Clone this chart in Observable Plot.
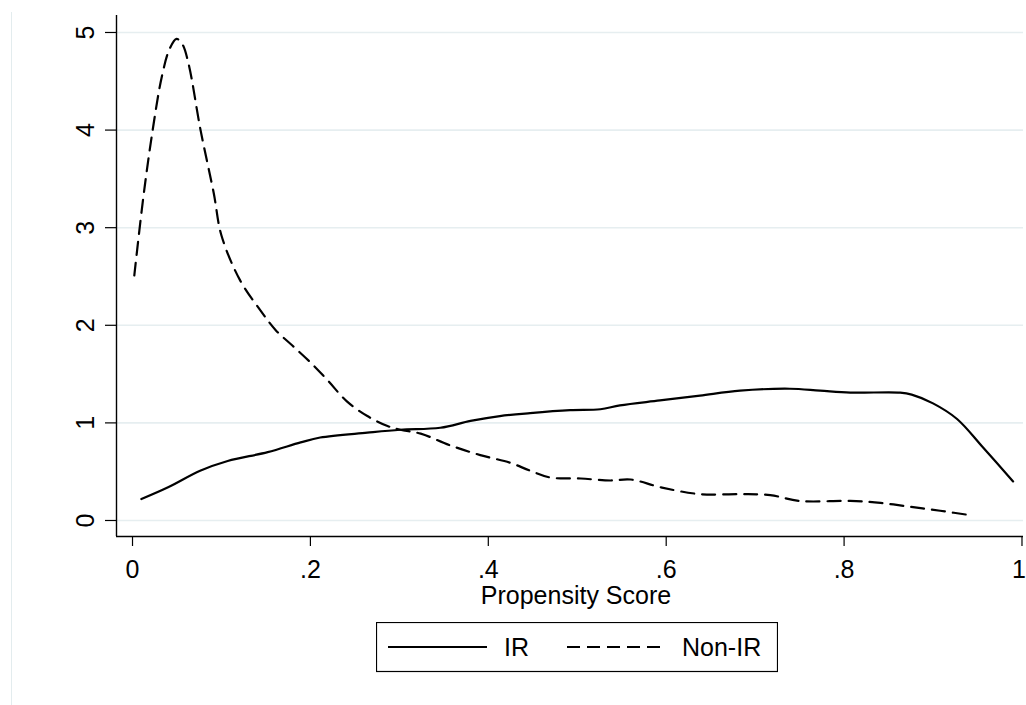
<!DOCTYPE html>
<html>
<head>
<meta charset="utf-8">
<script src="https://cdn.jsdelivr.net/npm/d3@7"></script>
<script src="https://cdn.jsdelivr.net/npm/@observablehq/plot@0.6"></script>
<style>
  html, body { margin: 0; padding: 0; background: #fff; }
  body { width: 1026px; height: 705px; position: relative; overflow: hidden; font-family: "Liberation Sans", Arial, sans-serif; }
  #outer { position: absolute; left: 11px; top: 12px; width: 0; height: 693px; border-left: 1px solid #e3ecee; }
  #chart { position: absolute; left: 0; top: 0; }
  #legend { position: absolute; left: 376px; top: 622px; }
</style>
</head>
<body>
<div id="outer"></div>
<div id="chart"></div>
<div id="legend"></div>
<script>
// ---- data ----
const irX = [0.01,0.04,0.076,0.107,0.152,0.189,0.211,0.264,0.301,0.346,0.38,0.413,0.447,0.492,0.526,0.548,0.593,0.638,0.683,0.739,0.773,0.807,0.863,0.876,0.9,0.927,0.956,0.99];
const irY = [0.22,0.34,0.51,0.61,0.70,0.80,0.85,0.90,0.93,0.95,1.02,1.07,1.10,1.13,1.14,1.18,1.23,1.28,1.33,1.35,1.33,1.31,1.31,1.29,1.20,1.04,0.75,0.40];
const nonX = [0.002,0.012,0.022,0.033,0.0416,0.0495,0.056,0.063,0.0765,0.0914,0.10,0.121,0.144,0.161,0.18,0.20,0.22,0.241,0.264,0.286,0.301,0.324,0.357,0.391,0.425,0.447,0.47,0.504,0.537,0.56,0.594,0.638,0.683,0.717,0.75,0.807,0.841,0.875,0.908,0.945];
const nonY = [2.51,3.30,3.96,4.55,4.83,4.935,4.88,4.68,4.0,3.35,2.92,2.46,2.15,1.95,1.79,1.62,1.43,1.22,1.07,0.97,0.93,0.89,0.77,0.67,0.59,0.51,0.44,0.43,0.41,0.42,0.34,0.27,0.27,0.26,0.20,0.20,0.18,0.14,0.10,0.05];
const xTicks = [0, 0.2, 0.4, 0.6, 0.8, 1];
const yTicks = [0, 1, 2, 3, 4, 5];
const xLabel = "Propensity Score";
const seriesNames = ["IR", "Non-IR"];

const ir = irX.map((x, i) => ({x, y: irY[i]}));
const non = nonX.map((x, i) => ({x, y: nonY[i]}));
const fmt = d => d === 0 ? "0" : d === 1 ? "1" : String(d).replace(/^0\./, ".");
const lastTick = xTicks[xTicks.length - 1];

const chart = Plot.plot({
  width: 1026,
  height: 620,
  marginLeft: 116,
  marginRight: 3,
  marginTop: 15,
  marginBottom: 84,
  style: {fontFamily: "'Liberation Sans', Arial, sans-serif", fontSize: "25px", color: "#000", background: "transparent"},
  x: {domain: [-0.018, 1.0017]},
  y: {domain: [-0.164, 5.174]},
  marks: [
    Plot.ruleY(yTicks, {stroke: "#e6eef0", strokeWidth: 1.6}),
    Plot.axisX({ticks: xTicks, tickFormat: () => "", tickSize: 10, label: null, stroke: "#000", strokeWidth: 1.2}),
    Plot.text(xTicks.filter(d => d !== lastTick), {x: d => d, text: fmt, frameAnchor: "bottom", dy: 24, lineAnchor: "top", fontSize: 25, fill: "#000"}),
    Plot.text([lastTick], {x: d => d, text: fmt, frameAnchor: "bottom", dy: 24, dx: -3, lineAnchor: "top", fontSize: 25, fill: "#000"}),
    Plot.axisY({ticks: yTicks, tickFormat: () => "", tickSize: 11, label: null, stroke: "#000", strokeWidth: 1.2}),
    Plot.text(yTicks, {y: d => d, text: d => String(d), frameAnchor: "left", dx: -31, rotate: -90, textAnchor: "middle", lineAnchor: "middle", fontSize: 25, fill: "#000"}),
    Plot.text([xLabel], {text: d => d, frameAnchor: "bottom", dx: 6, dy: 59, lineAnchor: "middle", fontSize: 25, fill: "#000"}),
    Plot.ruleX([-0.018], {stroke: "#000", strokeWidth: 1.4}),
    Plot.ruleY([-0.164], {stroke: "#000", strokeWidth: 1.4}),
    Plot.line(ir, {x: "x", y: "y", curve: "catmull-rom", stroke: "#000", strokeWidth: 2.2}),
    Plot.line(non, {x: "x", y: "y", curve: "catmull-rom", stroke: "#000", strokeWidth: 2.2, strokeDasharray: "13,8"})
  ]
});
document.getElementById("chart").appendChild(chart);

// legend
const leg = document.getElementById("legend");
leg.innerHTML = `
<svg width="402" height="51" xmlns="http://www.w3.org/2000/svg" style="font-family:'Liberation Sans', Arial, sans-serif; font-size:25px">
  <rect x="0.5" y="0.5" width="401" height="49" fill="#fff" stroke="#000" stroke-width="1.2"></rect>
  <line x1="12" x2="111" y1="25" y2="25" stroke="#000" stroke-width="2.2"></line>
  <text x="128" y="34" fill="#000">${seriesNames[0]}</text>
  <line x1="191" x2="289" y1="25" y2="25" stroke="#000" stroke-width="2.2" stroke-dasharray="13,7"></line>
  <text x="306" y="34" fill="#000">${seriesNames[1]}</text>
</svg>`;
</script>
</body>
</html>
